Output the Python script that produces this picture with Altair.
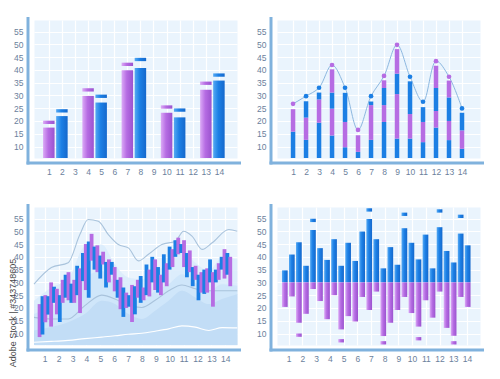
import altair as alt
import pandas as pd

# ---------------- shared ticks / domains ----------------
X_TICKS = list(range(1, 15))
Y_TICKS = [10, 15, 20, 25, 30, 35, 40, 45, 50, 55]
Y_DOMAIN = [5.5, 59.5]
BASE = 5.5

# ---------------- panel 1 : paired bars with caps ----------------
P1_X = [1, 2, 4, 5, 7, 8, 10, 11, 13, 14]
P1_SERIES = ["purple", "blue", "purple", "blue", "purple", "blue", "purple", "blue", "purple", "blue"]
P1_VALUE = [17.4, 21.9, 29.8, 27.2, 39.8, 40.7, 23.2, 21.4, 32.2, 35.8]
P1_CAP = [20.1, 24.6, 32.8, 30.3, 42.8, 44.7, 26.1, 24.9, 35.4, 38.6]

# ---------------- panel 2 : stacked segments + smooth line ----------------
P2_X = list(range(1, 15))
P2_STACKS = [
    [15.8, 24.6],
    [12.6, 21.3, 27.7],
    [19.3, 28.4, 31.1],
    [14.3, 24.8, 31.1, 40.2],
    [9.7, 19.6, 31.0],
    [7.9, 14.4],
    [12.6, 26.2, 27.6],
    [19.6, 26.2, 32.9, 35.9],
    [13.1, 30.5, 38.5, 48.1],
    [13.1, 22.7, 35.5],
    [11.7, 19.6, 25.4],
    [17.4, 23.9, 32.9, 41.6],
    [12.5, 20.0, 29.2, 35.8],
    [9.1, 16.3, 23.2],
]
P2_DOT = [26.7, 29.7, 33.0, 41.9, 33.0, 16.5, 29.7, 37.6, 49.8, 37.3, 27.5, 43.4, 37.3, 24.9]

# ---------------- panel 3 : candles over smooth bands ----------------
P3_HIGH = [21.5, 24.6, 25.0, 24.6, 30.0, 28.3, 27.5, 25.0, 31.0, 33.0, 34.0, 29.5, 31.0, 36.5,
           35.5, 41.5, 45.0, 46.0, 49.0, 44.0, 44.5, 40.5, 42.0, 38.0, 39.0, 38.0, 36.0, 31.0,
           32.0, 28.0, 26.0, 25.0, 29.0, 28.5, 31.0, 32.5, 28.0, 37.0, 35.0, 40.0, 39.0, 36.0,
           33.0, 41.0, 37.5, 44.0, 43.0, 46.5, 47.5, 45.0, 46.5, 41.5, 42.5, 36.0, 36.5, 33.0,
           34.0, 35.0, 35.5, 39.0, 34.0, 35.0, 37.5, 40.0, 43.0, 41.5, 40.0]
P3_LOW = [8.6, 9.6, 14.4, 17.4, 12.7, 22.0, 17.5, 14.5, 22.0, 24.0, 23.0, 22.0, 22.0, 25.0,
          18.0, 30.5, 27.0, 24.0, 38.5, 35.0, 34.0, 31.5, 37.0, 28.0, 30.0, 33.0, 26.5, 24.0,
          19.5, 16.5, 20.0, 20.5, 14.5, 17.5, 24.0, 22.0, 23.0, 25.0, 24.5, 30.0, 27.0, 26.0,
          25.0, 30.0, 28.5, 35.0, 36.0, 40.0, 41.0, 41.5, 36.0, 32.0, 34.0, 28.5, 31.0, 23.0,
          26.0, 25.5, 26.0, 30.0, 20.5, 30.0, 31.0, 35.0, 31.5, 33.0, 28.5]
P3_SERIES = ["purple" if k % 2 == 0 else "blue" for k in range(len(P3_HIGH))]

P3_BAND_X = [0.23, 1.48, 2.69, 3.89, 5.1, 6.06, 7.02, 7.99, 8.95, 9.92, 10.88, 11.84, 12.81, 13.77, 14.86]
P3_BAND_A = [22.8, 28.0, 31.2, 44.0, 44.8, 37.0, 31.9, 31.2, 34.5, 37.0, 42.3, 37.7, 34.5, 39.7, 39.0]
P3_BAND_B = [17.6, 20.9, 24.1, 31.9, 34.5, 29.9, 24.1, 22.8, 26.7, 29.3, 33.2, 29.9, 26.7, 29.3, 28.7]
P3_BAND_C = [11.2, 12.5, 14.4, 17.6, 22.8, 21.5, 17.6, 15.7, 18.9, 22.8, 26.7, 24.1, 21.5, 23.5, 25.4]
P3_MID_LINE = [16.3, 15.7, 15.7, 20.9, 25.0, 23.5, 20.9, 20.2, 23.0, 26.7, 29.0, 27.5, 26.7, 26.7, 26.7]
P3_LOW_LINE = [6.6, 6.9, 7.3, 8.0, 8.6, 9.1, 9.7, 10.1, 10.9, 11.8, 13.0, 12.5, 11.2, 12.3, 12.2]
P3_TOP_X = [0.23, 1.48, 2.69, 3.53, 4.13, 4.86, 5.58, 6.3, 7.02, 7.75, 8.47, 9.43, 10.4, 11.0,
            11.6, 12.33, 13.05, 14.25, 14.86]
P3_TOP_Y = [29.3, 35.8, 37.7, 48.7, 54.6, 53.9, 48.7, 44.8, 43.5, 38.4, 41.0, 44.8, 46.1, 50.0,
            48.1, 42.9, 45.5, 50.7, 50.0]
WATERMARK = "Adobe Stock | #343748605"

# ---------------- panel 4 : diverging bars around 30 ----------------
P4_MID = 30
P4_UP = [34.7, 40.9, 45.7, 36.5, 50.5, 43.4, 38.8, 46.9, 36.5, 45.5, 38.4, 49.9, 54.8, 46.9,
         35.5, 43.8, 36.9, 51.2, 45.5, 39.0, 48.7, 35.5, 51.6, 42.3, 37.8, 49.1, 44.5]
P4_DOWN = [20.4, 24.5, 14.2, 17.7, 27.4, 22.7, 15.6, 25.0, 11.6, 16.8, 14.7, 24.3, 19.2, 26.4,
           9.0, 14.2, 19.2, 24.3, 18.0, 12.7, 23.0, 16.2, 26.4, 12.2, 9.1, 24.3, 20.4]
P4_UP_CAP_IDX = [4, 12, 17, 22, 25]
P4_UP_CAP = [54.9, 59.0, 57.3, 58.6, 56.5]
P4_DOWN_CAP_IDX = [2, 8, 14, 19, 24]
P4_DOWN_CAP = [8.7, 6.5, 5.7, 7.3, 5.7]

# ---------------- style ----------------
W, H = 203, 138
BLUE = "#1c7fe4"
PURPLE = "#b66ce3"
AXIS_COL = "#80b2dd"
CAP_H = 1.3


def grad(light, main, dark):
    return alt.Gradient(
        gradient="linear", x1=0, x2=1, y1=0, y2=0,
        stops=[alt.GradientStop(color=light, offset=0),
               alt.GradientStop(color=main, offset=0.45),
               alt.GradientStop(color=dark, offset=1)])


G_BLUE = grad("#55a9f3", "#1c80e6", "#1568cc")
G_PURPLE = grad("#dbaaf6", "#b66ce3", "#9b53cf")


def xaxis():
    return alt.Axis(values=X_TICKS, format="d", grid=True, domain=False, ticks=False,
                    offset=5, labelPadding=4, title=None)


def yaxis():
    return alt.Axis(values=Y_TICKS, grid=True, domain=False, ticks=False,
                    offset=6, labelPadding=5, title=None)


def xs(domain):
    return alt.Scale(domain=domain, nice=False, zero=False)


YS = alt.Scale(domain=Y_DOMAIN, nice=False, zero=False)


def frame():
    base = alt.Chart(alt.Data(values=[{"k": 1}]))
    v = base.mark_rule(color=AXIS_COL, strokeWidth=3).encode(
        x=alt.value(-6), y=alt.value(-3), y2=alt.value(H + 6.5))
    h = base.mark_rule(color=AXIS_COL, strokeWidth=3).encode(
        x=alt.value(-7.5), x2=alt.value(W + 4), y=alt.value(H + 5))
    return [v, h]


# ---------------- panel 1 ----------------
df1 = pd.DataFrame({"x": P1_X, "series": P1_SERIES, "value": P1_VALUE, "cap": P1_CAP})
X1 = xs([0.25, 15.0])
l1 = []
for s, g in [("purple", G_PURPLE), ("blue", G_BLUE)]:
    b = alt.Chart(df1).transform_filter(alt.datum.series == s)
    l1.append(b.mark_bar(size=11.5, color=g).encode(
        x=alt.X("x:Q", scale=X1, axis=xaxis()),
        y=alt.Y("value:Q", scale=YS, axis=yaxis()),
        y2=alt.Y2(datum=BASE)))
    l1.append(b.transform_calculate(lo=f"datum.cap - {CAP_H}").mark_bar(size=11.5, color=g).encode(
        x=alt.X("x:Q", scale=X1, axis=xaxis()),
        y=alt.Y("cap:Q", scale=YS, axis=yaxis()),
        y2="lo:Q"))
p1 = alt.layer(*l1, *frame()).properties(width=W, height=H)

# ---------------- panel 2 ----------------
rows = []
for x, stack in zip(P2_X, P2_STACKS):
    prev = BASE
    for k, top in enumerate(stack):
        rows.append({"x": x, "lo": prev, "hi": top, "series": "blue" if k % 2 == 0 else "purple"})
        prev = top
df2 = pd.DataFrame(rows)
df2d = pd.DataFrame({"x": P2_X, "y": P2_DOT,
                     "series": ["blue" if len(s) % 2 == 1 else "purple" for s in P2_STACKS]})
X2 = xs([0.15, 15.0])
CS = alt.Scale(domain=["blue", "purple"], range=[BLUE, PURPLE])
line2 = alt.Chart(df2d).mark_line(interpolate="catmull-rom", color="#8db8e0", strokeWidth=1).encode(
    x=alt.X("x:Q", scale=X2, axis=xaxis()), y=alt.Y("y:Q", scale=YS, axis=yaxis()))
bars2 = alt.Chart(df2).mark_bar(size=4.5).encode(
    x=alt.X("x:Q", scale=X2, axis=xaxis()), y=alt.Y("hi:Q", scale=YS, axis=yaxis()), y2="lo:Q",
    color=alt.Color("series:N", scale=CS, legend=None))
dots2 = alt.Chart(df2d).mark_circle(size=22, opacity=1).encode(
    x=alt.X("x:Q", scale=X2, axis=xaxis()), y=alt.Y("y:Q", scale=YS, axis=yaxis()),
    color=alt.Color("series:N", scale=CS, legend=None))
p2 = alt.layer(line2, bars2, dots2, *frame()).properties(width=W, height=H)

# ---------------- panel 3 ----------------
X3 = xs([0.23, 14.84])
bands = []
for vals, fill in [(P3_BAND_A, "#d9ebfb"), (P3_BAND_B, "#cde4f9"), (P3_BAND_C, "#bfdaf5")]:
    d = pd.DataFrame({"x": P3_BAND_X, "y": vals})
    bands.append(alt.Chart(d).mark_area(interpolate="monotone", color=fill, opacity=0.85).encode(
        x=alt.X("x:Q", scale=X3, axis=xaxis()), y=alt.Y("y:Q", scale=YS, axis=yaxis()),
        y2=alt.Y2(datum=BASE)))
for xv, vals, col in [(P3_BAND_X, P3_MID_LINE, "#a9c3dc"), (P3_BAND_X, P3_LOW_LINE, "#ffffff"),
                      (P3_TOP_X, P3_TOP_Y, "#a9c3dc")]:
    d = pd.DataFrame({"x": xv, "y": vals})
    bands.append(alt.Chart(d).mark_line(interpolate="monotone", color=col, strokeWidth=1.1).encode(
        x=alt.X("x:Q", scale=X3, axis=xaxis()), y=alt.Y("y:Q", scale=YS, axis=yaxis())))
back3 = alt.layer(*bands)

df3 = pd.DataFrame({"i": list(range(len(P3_HIGH))), "hi": P3_HIGH, "lo": P3_LOW, "series": P3_SERIES})
cand3 = alt.Chart(df3).mark_bar(size=3.8).encode(
    x=alt.X("i:Q", scale=xs([-0.2, len(P3_HIGH) - 0.4]), axis=None),
    y=alt.Y("hi:Q", scale=YS, axis=yaxis()), y2="lo:Q",
    color=alt.Color("series:N", scale=CS, legend=None))
wm = alt.Chart(alt.Data(values=[{"t": WATERMARK}])).mark_text(
    angle=270, fontSize=9, color="#4a4a4a", font="Liberation Sans", align="center",
    baseline="middle").encode(x=alt.value(-21), y=alt.value(106), text="t:N")
p3 = alt.layer(back3, cand3, *frame(), wm).resolve_scale(x="independent").properties(width=W, height=H)

# ---------------- panel 4 ----------------
df4 = pd.DataFrame({"i": list(range(len(P4_UP))), "up": P4_UP, "down": P4_DOWN})
df4u = pd.DataFrame({"i": P4_UP_CAP_IDX, "c": P4_UP_CAP})
df4d = pd.DataFrame({"i": P4_DOWN_CAP_IDX, "c": P4_DOWN_CAP})
XI4 = xs([-0.4, len(P4_UP) + 0.04])
xi = alt.X("i:Q", scale=XI4, axis=None)
up4 = alt.Chart(df4).mark_bar(size=5.7, color=G_BLUE).encode(
    x=xi, y=alt.Y("up:Q", scale=YS, axis=yaxis()), y2=alt.Y2(datum=P4_MID))
down4 = alt.Chart(df4).mark_bar(size=5.7, color=G_PURPLE).encode(
    x=xi, y=alt.Y("down:Q", scale=YS, axis=yaxis()), y2=alt.Y2(datum=P4_MID))
ucap4 = alt.Chart(df4u).transform_calculate(lo=f"datum.c - {CAP_H}").mark_bar(size=5.7, color=G_BLUE).encode(
    x=xi, y=alt.Y("c:Q", scale=YS, axis=yaxis()), y2="lo:Q")
dcap4 = alt.Chart(df4d).transform_calculate(hi=f"datum.c + {CAP_H}").mark_bar(size=5.7, color=G_PURPLE).encode(
    x=xi, y=alt.Y("c:Q", scale=YS, axis=yaxis()), y2="hi:Q")
bars4 = alt.layer(up4, down4, ucap4, dcap4)
axis4 = alt.Chart(pd.DataFrame({"x": X_TICKS, "y": [P4_MID] * len(X_TICKS)})).mark_point(opacity=0).encode(
    x=alt.X("x:Q", scale=xs([0.15, 14.95]), axis=xaxis()), y=alt.Y("y:Q", scale=YS, axis=yaxis()))
p4 = alt.layer(axis4, bars4, *frame()).resolve_scale(x="independent").properties(width=W, height=H)

chart = alt.concat(
    p1, p2, p3, p4, columns=2, spacing={"row": 49, "column": 40}, bounds="flush"
).properties(
    padding={"left": 0, "top": 7, "right": 5, "bottom": 5}
).configure_view(
    fill="#eaf4fd", stroke="transparent"
).configure_axis(
    labelFont="Liberation Sans", labelFontSize=8.5, labelColor="#6b7f9c",
    gridColor="#ffffff", gridWidth=1.2, gridOpacity=1
)

chart.save("out.html", embed_options={"renderer": "svg", "actions": False})
